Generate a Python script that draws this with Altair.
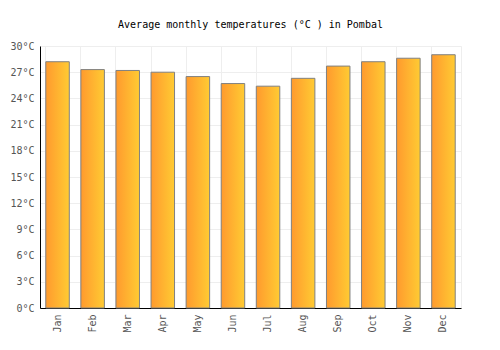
import altair as alt
import pandas as pd

months = ["Jan", "Feb", "Mar", "Apr", "May", "Jun", "Jul", "Aug", "Sep", "Oct", "Nov", "Dec"]
temps = [28.2, 27.3, 27.2, 27.0, 26.5, 25.7, 25.4, 26.3, 27.7, 28.2, 28.6, 29.0]
y_ticks = [0, 3, 6, 9, 12, 15, 18, 21, 24, 27, 30]

df = pd.DataFrame({"month": months, "temp": temps})

FONT = "DejaVu Sans Mono"

chart = alt.Chart(df).mark_bar(
    color=alt.Gradient(
        gradient="linear",
        x1=0, x2=1, y1=0, y2=0,
        stops=[alt.GradientStop(color="#ff9a2e", offset=0),
               alt.GradientStop(color="#ffcb33", offset=1)],
    ),
    stroke="#808080",
    strokeWidth=1,
).encode(
    x=alt.X("month:N", sort=months, title=None,
            scale=alt.Scale(paddingInner=0.33, paddingOuter=0.165),
            axis=alt.Axis(labelAngle=-90, ticks=False, domainColor="#000000",
                          labelFont=FONT, labelFontSize=10, labelColor="#555555",
                          labelPadding=6, grid=True, gridColor="#eeeeee",
                          bandPosition=0)),
    y=alt.Y("temp:Q", title=None,
            scale=alt.Scale(domain=[0, 30], nice=False),
            axis=alt.Axis(values=y_ticks, labelExpr="datum.value + '°C'", ticks=False,
                          domainColor="#000000", labelFont=FONT, labelFontSize=10,
                          labelColor="#555555", labelPadding=6,
                          gridColor="#eeeeee")),
).properties(
    width=421,
    height=262,
    title=alt.TitleParams("Average monthly temperatures (°C ) in Pombal",
                          font=FONT, fontSize=10, fontWeight="normal",
                          color="#000000", anchor="middle", frame="group",
                          baseline="bottom", offset=18, dy=17),
    autosize=alt.AutoSizeParams(type="none"),
    padding={"left": 40, "top": 46, "right": 39, "bottom": 42},
).configure_view(stroke="#eeeeee")

chart.save("out.html", embed_options={"renderer": "svg", "actions": False})
